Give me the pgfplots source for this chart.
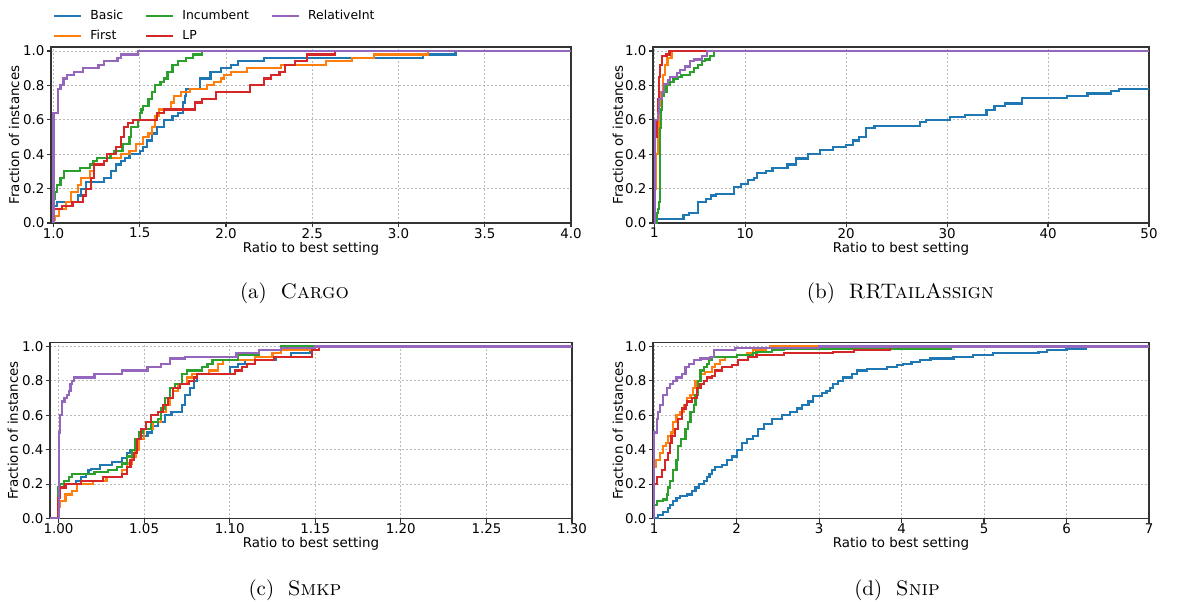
\documentclass[border=0pt]{standalone}
\usepackage{pgfplots}
\pgfplotsset{compat=1.18}
\usepackage{fontspec}
\newfontfamily\dejavu{DejaVu Sans}
\definecolor{tabblue}{HTML}{1F77B4}
\definecolor{taborange}{HTML}{FF7F0E}
\definecolor{tabgreen}{HTML}{2CA02C}
\definecolor{tabred}{HTML}{D62728}
\definecolor{tabpurple}{HTML}{9467BD}
\pgfplotsset{
  myax/.style={
    scale only axis, height=88pt,
    ymin=0, ymax=1.023,
    ytick={0,0.2,0.4,0.6,0.8,1.0},
    yticklabels={0.0,0.2,0.4,0.6,0.8,1.0},
    grid=major,
    major grid style={gray!55, dash pattern=on 1pt off 1pt, line width=0.4pt},
    axis line style={black!80, line width=0.8pt},
    tick align=outside, tick pos=left,
    major tick length=2pt,
    tick style={black!80, line width=0.6pt},
    ticklabel style={font=\dejavu\fontsize{6.7}{7.5}\selectfont},
    xlabel={Ratio to best setting},
    ylabel={Fraction of instances},
    every axis x label/.style={at={(axis description cs:0.5,0)}, anchor=base, yshift=-14.5pt, font=\dejavu\fontsize{6.7}{7.5}\selectfont},
    every axis y label/.style={at={(axis description cs:-0.071,0.5)}, anchor=center, rotate=90, font=\dejavu\fontsize{6.7}{7.5}\selectfont},
    xticklabel style={yshift=3pt},
    yticklabel style={xshift=2.2pt},
  },
  ecdf/.style={const plot, line width=1.1pt, #1},
}
\newcommand{\capfont}{\fontsize{10.5}{12}\selectfont}
\begin{document}
\begin{tikzpicture}
\useasboundingbox (0pt,0pt) rectangle (594pt,-300.5pt);

% ---------------- (a) Cargo
\begin{axis}[myax, at={(25.5pt,-111.5pt)}, anchor=south west, width=260pt,
  xmin=0.985, xmax=4.0,
  xtick={1.0,1.5,2.0,2.5,3.0,3.5,4.0},
  xticklabels={1.0,1.5,2.0,2.5,3.0,3.5,4.0},
  legend columns=3, legend cell align=left,
  legend style={at={(-0.008,1.26)}, anchor=north west, draw=none, fill=none,
    font=\dejavu\fontsize{6.2}{7}\selectfont,
    /tikz/every odd column/.append style={column sep=2pt},
    /tikz/every even column/.append style={column sep=9pt},
    row sep=0pt},
  legend image code/.code={\draw[#1] (0pt,0pt) -- (13.5pt,0pt);},
]
\addlegendimage{tabblue, line width=1.1pt}\addlegendentry{Basic}
\addlegendimage{tabgreen, line width=1.1pt}\addlegendentry{Incumbent}
\addlegendimage{tabpurple, line width=1.1pt}\addlegendentry{RelativeInt}
\addlegendimage{taborange, line width=1.1pt}\addlegendentry{First}
\addlegendimage{tabred, line width=1.1pt}\addlegendentry{LP}
\addplot[ecdf=tabblue, forget plot] coordinates {(1.0,0)(1.0,0.10)(1.02,0.12)(1.14,0.16)(1.16,0.20)(1.19,0.24)(1.29,0.26)(1.335,0.30)(1.36,0.34)(1.39,0.36)(1.415,0.38)(1.44,0.40)(1.50,0.42)(1.52,0.44)(1.54,0.48)(1.57,0.52)(1.60,0.56)(1.64,0.60)(1.69,0.62)(1.72,0.64)(1.75,0.70)(1.76,0.74)(1.77,0.78)(1.85,0.84)(1.91,0.88)(1.97,0.90)(2.03,0.92)(2.07,0.94)(2.22,0.96)(3.14,0.98)(3.33,1.0)(4.0,1.0)};
\addplot[ecdf=taborange, forget plot] coordinates {(1.0,0)(1.0,0.02)(1.01,0.04)(1.03,0.08)(1.07,0.12)(1.10,0.18)(1.14,0.22)(1.16,0.26)(1.21,0.30)(1.235,0.36)(1.25,0.38)(1.39,0.40)(1.44,0.42)(1.48,0.46)(1.52,0.50)(1.55,0.52)(1.57,0.56)(1.59,0.62)(1.61,0.66)(1.68,0.70)(1.70,0.74)(1.74,0.76)(1.79,0.78)(1.89,0.80)(1.93,0.82)(1.97,0.84)(1.99,0.86)(2.03,0.88)(2.12,0.90)(2.32,0.92)(2.58,0.94)(2.73,0.96)(2.86,0.98)(3.17,1.0)(4.0,1.0)};
\addplot[ecdf=tabgreen, forget plot] coordinates {(1.0,0)(1.0,0.14)(1.01,0.18)(1.02,0.22)(1.04,0.26)(1.06,0.30)(1.154,0.32)(1.21,0.34)(1.23,0.36)(1.25,0.38)(1.33,0.40)(1.35,0.42)(1.40,0.46)(1.44,0.50)(1.45,0.56)(1.49,0.60)(1.50,0.64)(1.51,0.66)(1.52,0.68)(1.55,0.72)(1.57,0.76)(1.59,0.80)(1.62,0.82)(1.64,0.84)(1.66,0.88)(1.69,0.92)(1.72,0.94)(1.77,0.96)(1.81,0.98)(1.86,1.0)(4.0,1.0)};
\addplot[ecdf=tabred, forget plot] coordinates {(1.0,0)(1.0,0.08)(1.05,0.10)(1.11,0.12)(1.17,0.16)(1.19,0.20)(1.215,0.26)(1.235,0.34)(1.29,0.36)(1.31,0.40)(1.36,0.44)(1.39,0.50)(1.41,0.56)(1.43,0.58)(1.46,0.60)(1.60,0.64)(1.64,0.66)(1.82,0.70)(1.86,0.72)(1.94,0.76)(2.14,0.80)(2.22,0.84)(2.26,0.86)(2.31,0.88)(2.34,0.92)(2.40,0.94)(2.47,0.98)(2.63,1.0)(4.0,1.0)};
\addplot[ecdf=tabpurple, forget plot] coordinates {(1.0,0)(1.0,0.64)(1.027,0.78)(1.04,0.80)(1.058,0.84)(1.077,0.86)(1.12,0.88)(1.17,0.90)(1.26,0.92)(1.29,0.94)(1.37,0.96)(1.39,0.98)(1.49,1.0)(4.0,1.0)};
\end{axis}

% ---------------- (b) RRTailAssign
\begin{axis}[myax, at={(326.5pt,-111.5pt)}, anchor=south west, width=248pt,
  xmin=0.87, xmax=50,
  xtick={1,10,20,30,40,50},
  xticklabels={1,10,20,30,40,50},
]
\addplot[ecdf=tabblue] coordinates {(1,0)(1.3,0.025)(3.9,0.045)(4.4,0.06)(5.35,0.12)(6.1,0.14)(6.6,0.16)(7.1,0.17)(8.9,0.21)(9.6,0.225)(10.3,0.25)(10.9,0.26)(11.2,0.29)(12.1,0.30)(12.7,0.32)(14.2,0.34)(15.0,0.375)(16.2,0.40)(17.4,0.425)(18.7,0.44)(20.0,0.455)(20.7,0.48)(21.3,0.50)(22.0,0.55)(22.8,0.565)(27.3,0.585)(27.9,0.60)(30.3,0.615)(31.8,0.63)(33.9,0.655)(34.7,0.68)(35.7,0.695)(37.4,0.728)(41.9,0.74)(43.9,0.753)(46.2,0.767)(47.0,0.777)(50,0.777)};
\addplot[ecdf=taborange] coordinates {(1,0)(1.1,0.2)(1.2,0.4)(1.35,0.55)(1.5,0.68)(1.65,0.76)(1.85,0.86)(2.05,0.92)(2.3,0.96)(2.7,1.0)(50,1.0)};
\addplot[ecdf=tabgreen] coordinates {(1,0)(1.3,0.06)(1.4,0.08)(1.5,0.12)(1.55,0.35)(1.6,0.55)(1.65,0.66)(1.76,0.74)(1.9,0.76)(2.2,0.80)(2.5,0.82)(2.9,0.84)(3.3,0.85)(3.7,0.86)(4.5,0.88)(4.96,0.90)(5.3,0.92)(5.7,0.94)(6.05,0.95)(6.5,0.97)(6.9,1.0)(50,1.0)};
\addplot[ecdf=tabred] coordinates {(1,0)(1.03,0.3)(1.1,0.5)(1.25,0.6)(1.4,0.72)(1.5,0.85)(1.6,0.92)(1.75,0.97)(2.2,0.98)(2.5,1.0)(50,1.0)};
\addplot[ecdf=tabpurple] coordinates {(1,0)(1.05,0.5)(1.1,0.6)(1.33,0.64)(1.5,0.72)(1.76,0.76)(1.99,0.81)(2.32,0.83)(2.55,0.85)(3.24,0.87)(3.57,0.89)(4.07,0.91)(4.56,0.94)(4.9,0.95)(5.72,0.97)(6.21,1.0)(50,1.0)};
\end{axis}

% ---------------- (c) Smkp
\begin{axis}[myax, at={(25pt,-259.25pt)}, anchor=south west, width=261pt,
  xmin=0.995, xmax=1.30,
  xtick={1.00,1.05,1.10,1.15,1.20,1.25,1.30},
  xticklabels={1.00,1.05,1.10,1.15,1.20,1.25,1.30},
]
\addplot[ecdf=tabblue] coordinates {(1.0,0)(1.0,0.18)(1.003,0.20)(1.01,0.22)(1.013,0.24)(1.016,0.26)(1.0175,0.28)(1.019,0.29)(1.024,0.31)(1.031,0.33)(1.037,0.35)(1.04,0.38)(1.042,0.40)(1.045,0.44)(1.047,0.48)(1.052,0.50)(1.0545,0.54)(1.058,0.56)(1.062,0.60)(1.066,0.62)(1.072,0.66)(1.074,0.72)(1.077,0.76)(1.079,0.80)(1.081,0.84)(1.10,0.88)(1.105,0.90)(1.109,0.92)(1.127,0.94)(1.136,0.96)(1.147,0.98)(1.152,1.0)(1.30,1.0)};
\addplot[ecdf=taborange] coordinates {(1.0,0)(1.0,0.07)(1.001,0.10)(1.004,0.14)(1.008,0.16)(1.011,0.20)(1.02,0.22)(1.028,0.24)(1.037,0.28)(1.04,0.32)(1.043,0.36)(1.045,0.40)(1.047,0.46)(1.05,0.52)(1.055,0.56)(1.06,0.62)(1.063,0.66)(1.065,0.70)(1.067,0.74)(1.07,0.78)(1.075,0.82)(1.078,0.84)(1.088,0.86)(1.093,0.90)(1.096,0.92)(1.115,0.94)(1.125,0.96)(1.13,0.98)(1.15,1.0)(1.30,1.0)};
\addplot[ecdf=tabgreen] coordinates {(1.0,0)(1.0,0.18)(1.001,0.20)(1.003,0.22)(1.006,0.24)(1.008,0.26)(1.021,0.27)(1.029,0.28)(1.034,0.30)(1.037,0.32)(1.04,0.36)(1.043,0.40)(1.045,0.46)(1.047,0.50)(1.049,0.52)(1.054,0.56)(1.058,0.58)(1.06,0.64)(1.062,0.70)(1.065,0.76)(1.068,0.78)(1.072,0.84)(1.075,0.86)(1.084,0.88)(1.087,0.90)(1.09,0.92)(1.105,0.95)(1.117,0.98)(1.13,1.0)(1.30,1.0)};
\addplot[ecdf=tabred] coordinates {(1.0,0)(1.0,0.12)(1.001,0.18)(1.004,0.20)(1.013,0.22)(1.026,0.24)(1.037,0.26)(1.04,0.30)(1.042,0.34)(1.044,0.38)(1.046,0.46)(1.048,0.52)(1.051,0.56)(1.054,0.60)(1.058,0.62)(1.061,0.66)(1.064,0.70)(1.067,0.76)(1.071,0.78)(1.076,0.80)(1.079,0.82)(1.081,0.84)(1.103,0.86)(1.107,0.88)(1.11,0.90)(1.115,0.92)(1.126,0.94)(1.148,0.98)(1.152,1.0)(1.30,1.0)};
\addplot[ecdf=tabpurple] coordinates {(0.995,0)(1.0,0)(1.0003,0.5)(1.0008,0.60)(1.002,0.68)(1.0035,0.70)(1.005,0.72)(1.006,0.74)(1.007,0.78)(1.008,0.80)(1.009,0.82)(1.021,0.84)(1.037,0.86)(1.052,0.88)(1.060,0.90)(1.065,0.93)(1.074,0.94)(1.104,0.96)(1.117,0.98)(1.13,0.99)(1.15,1.0)(1.30,1.0)};
\end{axis}

% ---------------- (d) Snip
\begin{axis}[myax, at={(326.5pt,-259.25pt)}, anchor=south west, width=248pt,
  xmin=0.985, xmax=7,
  xtick={1,2,3,4,5,6,7},
  xticklabels={1,2,3,4,5,6,7},
]
\addplot[ecdf=tabblue] coordinates {(1,0)(1.05,0.02)(1.11,0.04)(1.17,0.06)(1.19,0.08)(1.23,0.10)(1.27,0.12)(1.31,0.13)(1.40,0.14)(1.46,0.16)(1.50,0.18)(1.54,0.20)(1.60,0.22)(1.64,0.24)(1.67,0.26)(1.70,0.28)(1.74,0.30)(1.82,0.31)(1.88,0.34)(1.94,0.36)(2.0,0.40)(2.06,0.44)(2.12,0.46)(2.2,0.48)(2.26,0.52)(2.33,0.55)(2.43,0.58)(2.55,0.60)(2.65,0.62)(2.73,0.64)(2.79,0.66)(2.87,0.68)(2.93,0.71)(3.03,0.73)(3.09,0.74)(3.13,0.76)(3.17,0.78)(3.23,0.80)(3.29,0.82)(3.40,0.84)(3.46,0.86)(3.58,0.87)(3.82,0.88)(3.94,0.89)(4.02,0.90)(4.12,0.91)(4.22,0.92)(4.35,0.93)(4.63,0.94)(4.87,0.95)(5.11,0.96)(5.66,0.97)(5.76,0.98)(6.0,0.985)(6.24,1.0)(7,1.0)};
\addplot[ecdf=taborange] coordinates {(1,0)(1.0,0.30)(1.02,0.34)(1.07,0.38)(1.11,0.42)(1.14,0.44)(1.17,0.48)(1.21,0.50)(1.23,0.56)(1.27,0.60)(1.31,0.62)(1.36,0.66)(1.40,0.70)(1.44,0.72)(1.47,0.76)(1.50,0.80)(1.56,0.84)(1.62,0.85)(1.70,0.88)(1.74,0.90)(1.80,0.92)(1.86,0.94)(2.0,0.95)(2.12,0.96)(2.2,0.98)(2.35,0.99)(2.4,1.0)(7,1.0)};
\addplot[ecdf=tabgreen] coordinates {(1,0)(1.0,0.08)(1.03,0.10)(1.11,0.11)(1.15,0.14)(1.17,0.18)(1.19,0.22)(1.23,0.28)(1.27,0.34)(1.29,0.42)(1.32,0.46)(1.38,0.52)(1.41,0.56)(1.44,0.62)(1.48,0.66)(1.50,0.72)(1.53,0.80)(1.56,0.86)(1.60,0.88)(1.64,0.90)(1.66,0.92)(1.70,0.94)(2.0,0.95)(2.2,0.96)(2.24,0.97)(2.43,0.98)(2.57,0.985)(4.6,1.0)(7,1.0)};
\addplot[ecdf=tabred] coordinates {(1,0)(1.0,0.20)(1.03,0.24)(1.09,0.28)(1.13,0.34)(1.17,0.38)(1.19,0.44)(1.21,0.48)(1.25,0.52)(1.29,0.58)(1.34,0.64)(1.38,0.66)(1.40,0.68)(1.46,0.70)(1.52,0.76)(1.56,0.78)(1.60,0.80)(1.64,0.82)(1.70,0.83)(1.74,0.86)(1.82,0.88)(1.94,0.89)(2.02,0.92)(2.14,0.94)(2.24,0.95)(2.57,0.96)(3.17,0.97)(3.42,0.98)(3.86,1.0)(7,1.0)};
\addplot[ecdf=tabpurple] coordinates {(1,0)(1.0,0.5)(1.03,0.58)(1.05,0.62)(1.07,0.66)(1.11,0.72)(1.15,0.76)(1.19,0.78)(1.23,0.80)(1.27,0.82)(1.34,0.84)(1.38,0.88)(1.42,0.90)(1.48,0.92)(1.56,0.93)(1.68,0.94)(1.72,0.98)(1.98,0.99)(3.0,1.0)(7,1.0)};
\end{axis}

% ---------------- captions
\node[font=\capfont] at (147.25pt,-146.5pt) {(a)\hspace{0.65em}\textsc{Cargo}};
\node[font=\capfont] at (450.25pt,-146.5pt) {(b)\hspace{0.65em}\textsc{RRTailAssign}};
\node[font=\capfont] at (147.5pt,-295pt) {(c)\hspace{0.65em}\textsc{Smkp}};
\node[font=\capfont] at (448.5pt,-295pt) {(d)\hspace{0.65em}\textsc{Snip}};
\end{tikzpicture}
\end{document}
